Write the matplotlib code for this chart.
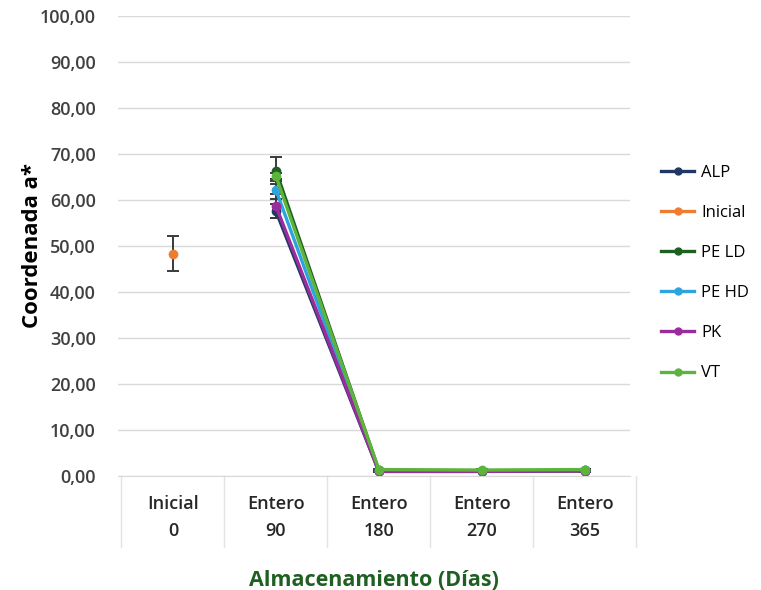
import numpy as np
import matplotlib.pyplot as plt
from matplotlib.lines import Line2D

# categories on the x axis
categorias = ["Inicial\n0", "Entero\n90", "Entero\n180", "Entero\n270", "Entero\n365"]

series = ["ALP", "Inicial", "PE LD", "PE HD", "PK", "VT"]
colores = ["#1F3864", "#ED7D31", "#1F5F22", "#2EA3DD", "#9B2C9E", "#5DB43C"]

# coordenada a* (NaN = no data at that storage time)
alp     = [np.nan, 57.6, 1.0, 1.0, 1.1]
inicial = [48.3, np.nan, np.nan, np.nan, np.nan]
pe_ld   = [np.nan, 66.4, 1.2, 1.1, 1.2]
pe_hd   = [np.nan, 62.2, 1.1, 1.1, 1.2]
pk      = [np.nan, 58.7, 1.0, 1.0, 1.1]
vt      = [np.nan, 65.2, 1.4, 1.3, 1.4]

err_alp     = [0, 1.5, 0.2, 0.2, 0.2]
err_inicial = [3.8, 0, 0, 0, 0]
err_pe_ld   = [0, 3.0, 0.2, 0.2, 0.2]
err_pe_hd   = [0, 2.0, 0.2, 0.2, 0.2]
err_pk      = [0, 2.6, 0.2, 0.2, 0.2]
err_vt      = [0, 0.7, 0.2, 0.2, 0.2]

valores = [alp, inicial, pe_ld, pe_hd, pk, vt]
errores = [err_alp, err_inicial, err_pe_ld, err_pe_hd, err_pk, err_vt]

plt.rcParams['font.family'] = ['Open Sans', 'DejaVu Sans']

fig = plt.figure(figsize=(7.61, 5.90), dpi=100)
ax = fig.add_axes([118 / 761, 114 / 590, 512 / 761, 460 / 590])

x = np.arange(len(categorias))
handles = []
for nombre, col, y, e in zip(series, colores, valores, errores):
    y = np.array(y, dtype=float)
    e = np.array(e, dtype=float)
    ax.errorbar(x, y, yerr=e, color=col, ecolor="#3a3a3a", elinewidth=1.4,
                capsize=4, capthick=1.4, marker="o", markersize=6,
                linewidth=2.4)
    handles.append(Line2D([], [], color=col, marker="o", markersize=5,
                          linewidth=2.4, label=nombre))

ax.set_ylim(0, 100)
ax.set_yticks(np.arange(0, 101, 10))
ax.set_yticklabels([f"{v:.2f}".replace(".", ",") for v in range(0, 101, 10)],
                   fontsize=13, fontweight="semibold", color="#404040")
ax.set_xlim(-0.534, 4.44)
ax.set_xticks(x)
ax.set_xticklabels(categorias, fontsize=13, fontweight="semibold",
                   color="#262626", linespacing=1.6)
ax.tick_params(axis="both", length=0)
ax.tick_params(axis="x", pad=14)
ax.tick_params(axis="y", pad=16)

ax.grid(axis="y", color="#D9D9D9", linewidth=1)
ax.set_axisbelow(True)
for s in ["top", "right", "left"]:
    ax.spines[s].set_visible(False)
ax.spines["bottom"].set_color("#D9D9D9")

# table-style separators below the axis
trans = ax.get_xaxis_transform()
for b in np.arange(-0.5, len(categorias), 1.0):
    ax.plot([b, b], [0, -0.155], color="#E3E3E3", linewidth=1,
            transform=trans, clip_on=False)

ax.set_ylabel("Coordenada a*", fontsize=16, fontweight="bold", color="black",
              labelpad=-2)
ax.set_xlabel("Almacenamiento (Días)", fontsize=15.5, fontweight="bold",
              color="#1F5F22", labelpad=22)

fig.legend(handles=handles, loc="center left",
           bbox_to_anchor=(646 / 761, 317 / 590), frameon=False,
           fontsize=12, labelspacing=1.45, handlelength=2.0, handletextpad=0.4)

fig.savefig("out.png", dpi=100)
